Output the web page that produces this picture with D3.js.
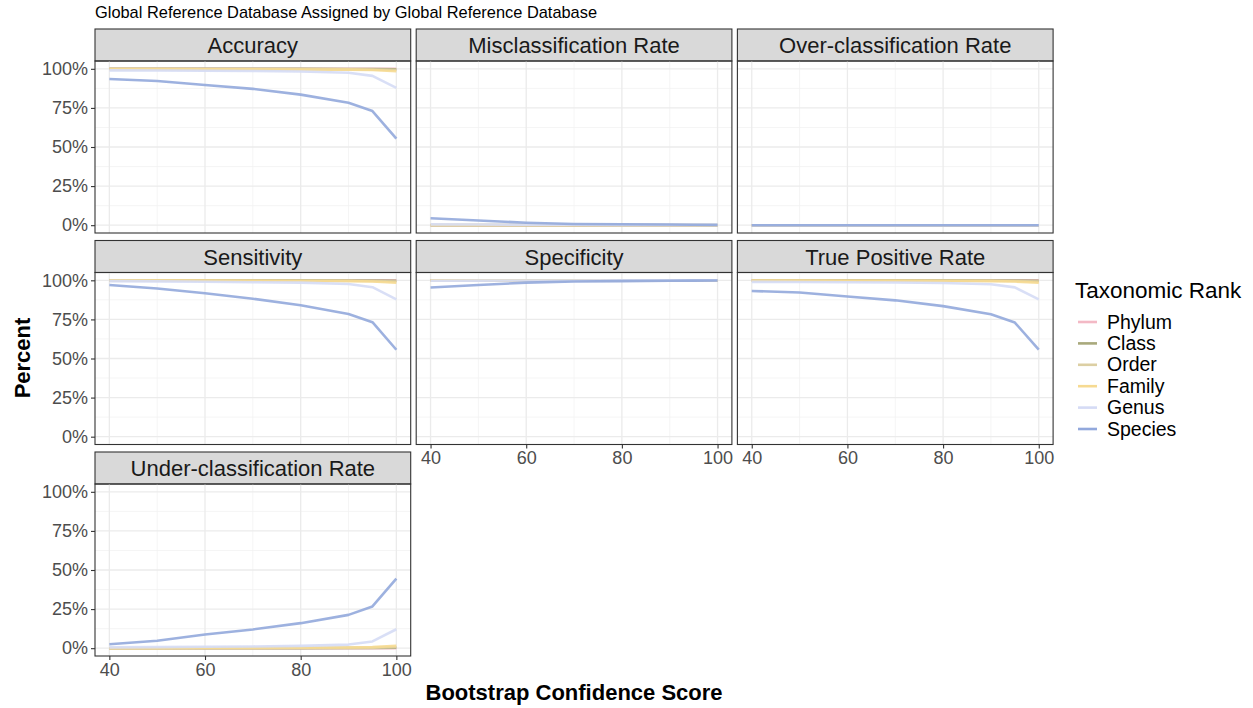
<!DOCTYPE html>
<html>
<head>
<meta charset="utf-8">
<script src="https://cdn.jsdelivr.net/npm/d3@7"></script>
<style>
  body { margin: 0; background: #fff; }
  svg { font-family: "Liberation Sans", Arial, Helvetica, sans-serif; }
</style>
</head>
<body>
<svg id="chart" width="1253" height="708"></svg>
<script>
// bootstrap confidence thresholds
const confidence = [40, 50, 60, 70, 80, 90, 95, 100];
const ranks = ["Phylum", "Class", "Order", "Family", "Genus", "Species"];
const rankColors = ["#f3b9c5", "#a9a97c", "#dccfa3", "#f6da92", "#d5dbf5", "#92a8dc"];
const metrics = ["Accuracy", "Misclassification Rate", "Over-classification Rate",
                 "Sensitivity", "Specificity", "True Positive Rate", "Under-classification Rate"];
const yTicks = [0, 0.25, 0.5, 0.75, 1];
const xTicks = [40, 60, 80, 100];

// values per metric, per rank (fraction)
const accuracy = {
  Phylum:  [1, 1, 1, 1, 1, 1, 1, 1],
  Class:   [1, 1, 1, 1, 1, 0.999, 0.999, 0.997],
  Order:   [0.999, 0.999, 0.999, 0.999, 0.998, 0.997, 0.996, 0.992],
  Family:  [0.998, 0.998, 0.997, 0.997, 0.996, 0.995, 0.992, 0.984],
  Genus:   [0.99, 0.989, 0.988, 0.986, 0.983, 0.975, 0.955, 0.878],
  Species: [0.935, 0.922, 0.897, 0.872, 0.835, 0.783, 0.73, 0.553]
};
const misclassification = {
  Phylum:  [0, 0, 0, 0, 0, 0, 0, 0],
  Class:   [0, 0, 0, 0, 0, 0, 0, 0],
  Order:   [0.001, 0.001, 0.001, 0.001, 0.001, 0.001, 0.001, 0],
  Family:  [0.002, 0.002, 0.002, 0.001, 0.001, 0.001, 0.001, 0.001],
  Genus:   [0.005, 0.004, 0.003, 0.003, 0.002, 0.002, 0.002, 0.001],
  Species: [0.044, 0.03, 0.016, 0.008, 0.006, 0.004, 0.003, 0.002]
};
const overclassification = {
  Phylum:  [0, 0, 0, 0, 0, 0, 0, 0],
  Class:   [0, 0, 0, 0, 0, 0, 0, 0],
  Order:   [0, 0, 0, 0, 0, 0, 0, 0],
  Family:  [0, 0, 0, 0, 0, 0, 0, 0],
  Genus:   [0, 0, 0, 0, 0, 0, 0, 0],
  Species: [0, 0, 0, 0, 0, 0, 0, 0]
};
const sensitivity = {
  Phylum:  [1, 1, 1, 1, 1, 1, 1, 1],
  Class:   [1, 1, 1, 1, 1, 0.999, 0.999, 0.997],
  Order:   [1, 1, 0.999, 0.999, 0.998, 0.997, 0.996, 0.992],
  Family:  [0.999, 0.999, 0.998, 0.997, 0.996, 0.995, 0.992, 0.984],
  Genus:   [0.995, 0.993, 0.991, 0.988, 0.985, 0.976, 0.956, 0.878],
  Species: [0.97, 0.948, 0.917, 0.882, 0.84, 0.785, 0.732, 0.556]
};
const specificity = {
  Phylum:  [1, 1, 1, 1, 1, 1, 1, 1],
  Class:   [1, 1, 1, 1, 1, 1, 1, 1],
  Order:   [1, 1, 1, 1, 1, 1, 1, 1],
  Family:  [1, 1, 1, 1, 1, 1, 1, 1],
  Genus:   [0.997, 0.998, 0.999, 0.999, 1, 1, 1, 1],
  Species: [0.954, 0.97, 0.985, 0.992, 0.995, 0.997, 0.998, 0.999]
};
const truePositiveRate = {
  Phylum:  [1, 1, 1, 1, 1, 1, 1, 1],
  Class:   [1, 1, 1, 1, 1, 0.999, 0.999, 0.997],
  Order:   [0.999, 0.999, 0.999, 0.999, 0.998, 0.997, 0.996, 0.992],
  Family:  [0.998, 0.998, 0.997, 0.997, 0.996, 0.995, 0.992, 0.984],
  Genus:   [0.99, 0.989, 0.988, 0.986, 0.983, 0.975, 0.955, 0.878],
  Species: [0.932, 0.922, 0.897, 0.872, 0.835, 0.783, 0.73, 0.557]
};
const underclassification = {
  Phylum:  [0, 0, 0, 0, 0, 0, 0, 0],
  Class:   [0, 0, 0, 0, 0, 0.001, 0.001, 0.003],
  Order:   [0, 0, 0.001, 0.001, 0.001, 0.002, 0.003, 0.008],
  Family:  [0, 0, 0.001, 0.002, 0.003, 0.004, 0.007, 0.015],
  Genus:   [0.005, 0.007, 0.009, 0.011, 0.015, 0.023, 0.043, 0.121],
  Species: [0.025, 0.048, 0.087, 0.12, 0.16, 0.213, 0.267, 0.445]
};
const metricData = [accuracy, misclassification, overclassification,
                    sensitivity, specificity, truePositiveRate, underclassification];

const svg = d3.select("#chart");
const ncol = 3;
const panelLeft = 95, panelW = 315.7, colGap = 5.5;
const stripTop = 29, stripH = 32, panelH = 172, rowGap = 7.5;
const tickColor = "#4d4d4d";

const x = d3.scaleLinear().domain([37, 103]).range([0, panelW]);
const y = d3.scaleLinear().domain([-0.05, 1.05]).range([panelH, 0]);
const color = d3.scaleOrdinal().domain(ranks).range(rankColors);

const line = d3.line()
  .x(d => x(d.conf))
  .y(d => y(d.value));

svg.append("text")
  .attr("x", panelLeft)
  .attr("y", 18)
  .attr("font-size", 16.4)
  .attr("fill", "#000")
  .text("Global Reference Database Assigned by Global Reference Database");

metrics.forEach((metric, i) => {
  const col = i % ncol, row = Math.floor(i / ncol);
  const px = panelLeft + col * (panelW + colGap);
  const sy = stripTop + row * (stripH + panelH + rowGap);
  const py = sy + stripH;

  // strip
  svg.append("rect")
    .attr("x", px).attr("y", sy)
    .attr("width", panelW).attr("height", stripH)
    .attr("fill", "#d9d9d9").attr("stroke", "#333").attr("stroke-width", 1.1);
  svg.append("text")
    .attr("x", px + panelW / 2).attr("y", sy + stripH / 2 + 8)
    .attr("text-anchor", "middle")
    .attr("font-size", 22)
    .attr("fill", "#1a1a1a")
    .text(metric);

  const g = svg.append("g").attr("transform", `translate(${px},${py})`);

  // grid: minor then major
  const minorY = [0.125, 0.375, 0.625, 0.875];
  const minorX = [50, 70, 90];
  g.selectAll(".minor-y").data(minorY).join("line")
    .attr("x1", 0).attr("x2", panelW)
    .attr("y1", d => y(d)).attr("y2", d => y(d))
    .attr("stroke", "#f2f2f2").attr("stroke-width", 0.8);
  g.selectAll(".minor-x").data(minorX).join("line")
    .attr("y1", 0).attr("y2", panelH)
    .attr("x1", d => x(d)).attr("x2", d => x(d))
    .attr("stroke", "#f2f2f2").attr("stroke-width", 0.8);
  g.selectAll(".major-y").data(yTicks).join("line")
    .attr("x1", 0).attr("x2", panelW)
    .attr("y1", d => y(d)).attr("y2", d => y(d))
    .attr("stroke", "#ebebeb").attr("stroke-width", 1.3);
  g.selectAll(".major-x").data(xTicks).join("line")
    .attr("y1", 0).attr("y2", panelH)
    .attr("x1", d => x(d)).attr("x2", d => x(d))
    .attr("stroke", "#ebebeb").attr("stroke-width", 1.3);

  // lines, drawn in rank order so Species ends on top
  const data = metricData[i];
  ranks.forEach(rank => {
    const pts = confidence.map((c, k) => ({conf: c, value: data[rank][k]}));
    g.append("path")
      .datum(pts)
      .attr("d", line)
      .attr("fill", "none")
      .attr("stroke", color(rank))
      .attr("stroke-width", 2.6)
      .attr("stroke-opacity", 0.9)
      .attr("stroke-linejoin", "round");
  });

  // panel border
  g.append("rect")
    .attr("width", panelW).attr("height", panelH)
    .attr("fill", "none").attr("stroke", "#333").attr("stroke-width", 1.1);

  // y axis on first column
  if (col === 0) {
    const ya = g.append("g")
      .call(d3.axisLeft(y).tickValues(yTicks).tickFormat(d3.format(".0%")).tickSize(4).tickPadding(3));
    ya.select(".domain").remove();
    ya.selectAll("line").attr("stroke", "#333").attr("stroke-width", 1.1);
    ya.selectAll("text").attr("font-size", 18).attr("fill", tickColor)
      .attr("font-family", "Liberation Sans, Arial, sans-serif");
  }

  // x axis where no panel below
  if (i + ncol >= metrics.length) {
    const xa = g.append("g")
      .attr("transform", `translate(0,${panelH})`)
      .call(d3.axisBottom(x).tickValues(xTicks).tickSize(4).tickPadding(3));
    xa.select(".domain").remove();
    xa.selectAll("line").attr("stroke", "#333").attr("stroke-width", 1.1);
    xa.selectAll("text").attr("font-size", 18).attr("fill", tickColor)
      .attr("font-family", "Liberation Sans, Arial, sans-serif");
  }
});

// axis titles
const panelsRight = panelLeft + ncol * panelW + (ncol - 1) * colGap;
svg.append("text")
  .attr("x", (panelLeft + panelsRight) / 2)
  .attr("y", 700)
  .attr("text-anchor", "middle")
  .attr("font-size", 22)
  .attr("font-weight", "bold")
  .text("Bootstrap Confidence Score");

svg.append("text")
  .attr("transform", "translate(30,358) rotate(-90)")
  .attr("text-anchor", "middle")
  .attr("font-size", 22)
  .attr("font-weight", "bold")
  .text("Percent");

// legend
const legend = svg.append("g").attr("transform", "translate(1075,0)");
legend.append("text")
  .attr("x", 0).attr("y", 298)
  .attr("font-size", 22.5)
  .text("Taxonomic Rank");
ranks.forEach((rank, k) => {
  const cy = 322 + k * 21.4;
  legend.append("line")
    .attr("x1", 3).attr("x2", 22)
    .attr("y1", cy).attr("y2", cy)
    .attr("stroke", color(rank)).attr("stroke-width", 2.6);
  legend.append("text")
    .attr("x", 32).attr("y", cy + 6.5)
    .attr("font-size", 19.5)
    .text(rank);
});
</script>
</body>
</html>
